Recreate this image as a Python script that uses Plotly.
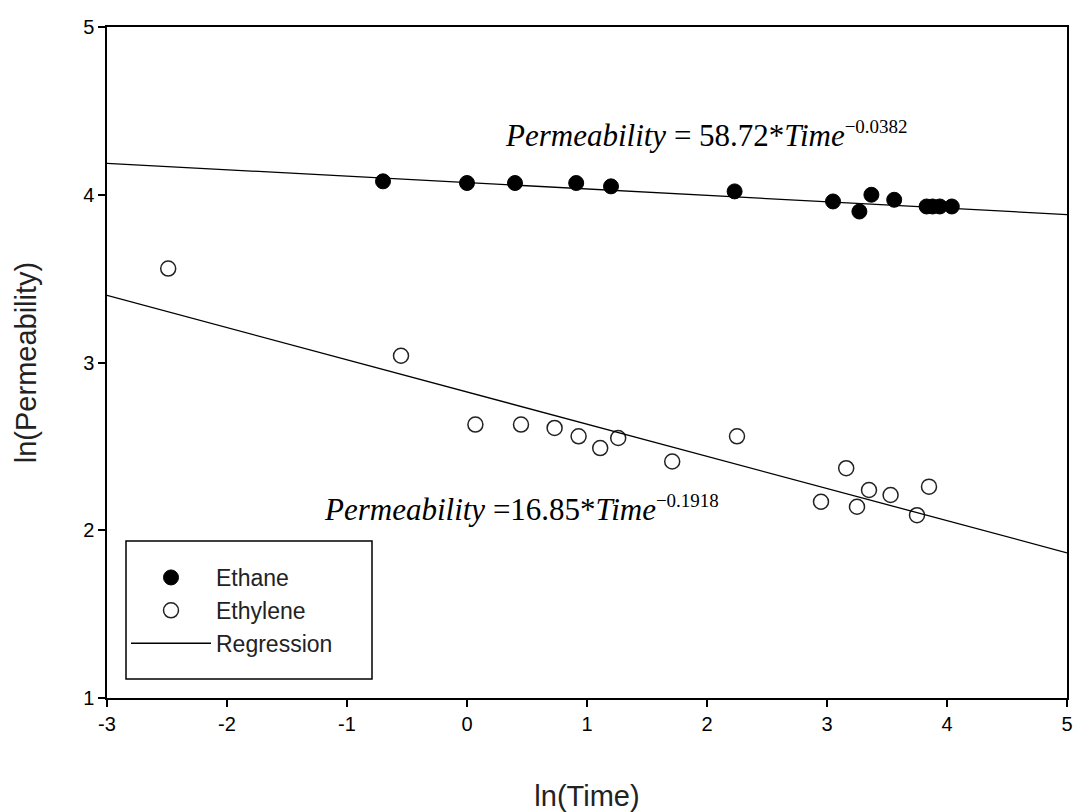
import math
import plotly.graph_objects as go

# Ethane data (ln(Time), ln(Permeability))
ethane_x = [-0.70, 0.00, 0.40, 0.91, 1.20, 2.23, 3.05, 3.27, 3.37, 3.56, 3.83, 3.88, 3.94, 4.04]
ethane_y = [4.08, 4.07, 4.07, 4.07, 4.05, 4.02, 3.96, 3.90, 4.00, 3.97, 3.93, 3.93, 3.93, 3.93]

# Ethylene data
ethylene_x = [-2.49, -0.55, 0.07, 0.45, 0.73, 0.93, 1.11, 1.26, 1.71, 2.25, 2.95, 3.16, 3.25, 3.35, 3.53, 3.75, 3.85]
ethylene_y = [3.56, 3.04, 2.63, 2.63, 2.61, 2.56, 2.49, 2.55, 2.41, 2.56, 2.17, 2.37, 2.14, 2.24, 2.21, 2.09, 2.26]

# Power-law regression coefficients: Permeability = a * Time^b
ethane_a, ethane_b = 58.72, -0.0382
ethylene_a, ethylene_b = 16.85, -0.1918

x_range = [-3, 5]
y_range = [1, 5]
x_ticks = [-3, -2, -1, 0, 1, 2, 3, 4, 5]
x_ticklabels = ["-3", "-2", "-1", "0", "1", "2", "3", "4", "5"]
y_ticks = [1, 2, 3, 4, 5]
y_ticklabels = ["1", "2", "3", "4", "5"]


def reg_line(a, b):
    xs = list(x_range)
    ys = [math.log(a) + b * x for x in xs]
    return xs, ys


fig = go.Figure()

fig.add_trace(go.Scatter(
    x=ethane_x, y=ethane_y, mode="markers", name="Ethane",
    marker=dict(symbol="circle", size=15, color="black", line=dict(color="black", width=1)),
))
fig.add_trace(go.Scatter(
    x=ethylene_x, y=ethylene_y, mode="markers", name="Ethylene",
    marker=dict(symbol="circle-open", size=15, color="#222222", line=dict(width=1.5)),
))
lx, ly = reg_line(ethane_a, ethane_b)
fig.add_trace(go.Scatter(x=lx, y=ly, mode="lines", name="Regression",
                         line=dict(color="black", width=1.3), showlegend=True))
lx2, ly2 = reg_line(ethylene_a, ethylene_b)
fig.add_trace(go.Scatter(x=lx2, y=ly2, mode="lines", name="Regression",
                         line=dict(color="black", width=1.3), showlegend=False))

serif = "Liberation Serif, Times New Roman, serif"
sup_style = '<sup><span style="font-size:19px">%s</span></sup>'
fig.add_annotation(
    x=0.30, y=4.36, xref="x", yref="y", xanchor="left", yanchor="middle", showarrow=False,
    text="<i>Permeability</i> = 58.72*<i>Time</i>" + sup_style % "\u22120.0382",
    font=dict(family=serif, size=31, color="black"),
)
fig.add_annotation(
    x=-1.21, y=2.13, xref="x", yref="y", xanchor="left", yanchor="middle", showarrow=False,
    text="<i>Permeability</i> =16.85*<i>Time</i>" + sup_style % "\u22120.1918",
    font=dict(family=serif, size=31, color="black"),
)

# legend frame
fig.add_shape(type="rect", xref="paper", yref="paper",
              x0=(126 - 107) / 960, x1=(372 - 107) / 960,
              y0=(698 - 679) / 671, y1=(698 - 541) / 671,
              line=dict(color="black", width=1.5), fillcolor="white", layer="above")

sans = "Liberation Sans, Arial, sans-serif"
axis_common = dict(
    showline=True, linecolor="black", linewidth=1.5, mirror=True,
    ticks="outside", ticklen=7, tickcolor="black", tickwidth=1.5,
    showgrid=False, zeroline=False,
    tickfont=dict(family=sans, size=20, color="black"),
)
fig.update_xaxes(range=x_range, tickvals=x_ticks, ticktext=x_ticklabels, automargin=False,
                 title=dict(text="ln(Time)", font=dict(family=sans, size=29, color="#222222"), standoff=52),
                 **axis_common)
fig.update_yaxes(range=y_range, tickvals=y_ticks, ticktext=y_ticklabels, automargin=False,
                 title=dict(text="ln(Permeability)", font=dict(family=sans, size=29, color="#222222"), standoff=38),
                 **axis_common)

fig.update_layout(
    width=1075, height=812,
    margin=dict(l=107, r=8, t=27, b=114),
    plot_bgcolor="white", paper_bgcolor="white",
    showlegend=True,
    legend=dict(
        x=(126 - 107) / 960, y=(698 - 556) / 671, xanchor="left", yanchor="top",
        bgcolor="rgba(0,0,0,0)", borderwidth=0,
        font=dict(family=sans, size=23, color="#222222"),
        itemwidth=80,
        traceorder="normal",
    ),
)

fig.write_html("out.html")
